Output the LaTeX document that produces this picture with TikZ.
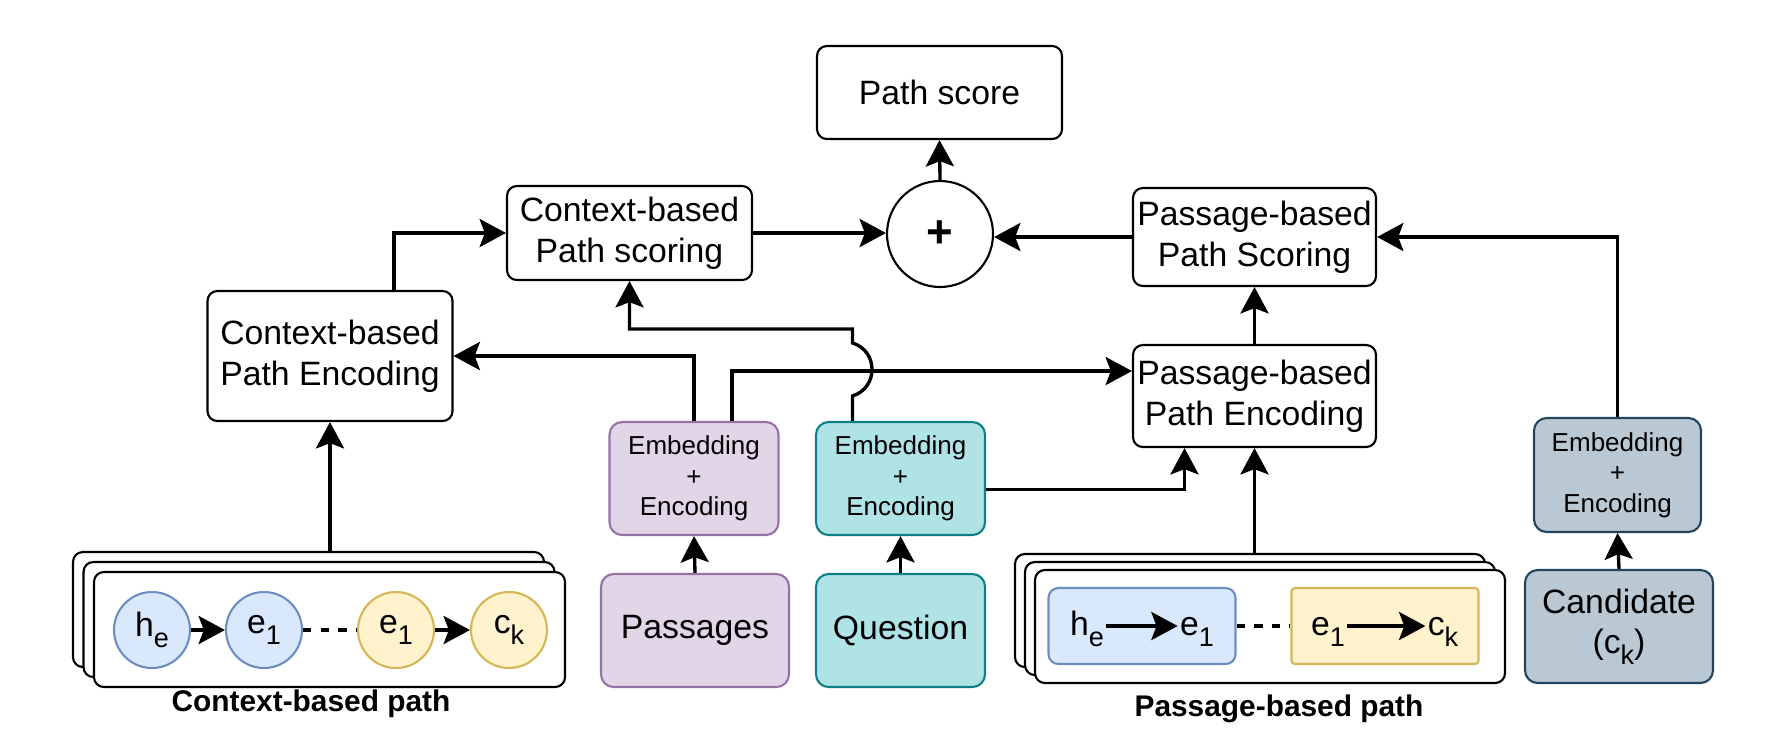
\documentclass[tikz,border=0pt]{standalone}
\usepackage{fontspec}
\setmainfont{Liberation Sans}
\usepackage{tikz}
\usetikzlibrary{arrows.meta,shapes}

\definecolor{blueF}{HTML}{DAE8FC}
\definecolor{blueD}{HTML}{6C8EBF}
\definecolor{yellowF}{HTML}{FFF2CC}
\definecolor{yellowD}{HTML}{D6B656}
\definecolor{purpleF}{HTML}{E1D5E7}
\definecolor{purpleD}{HTML}{9673A6}
\definecolor{tealF}{HTML}{B0E3E6}
\definecolor{tealD}{HTML}{0E8088}
\definecolor{greyF}{HTML}{BAC8D3}
\definecolor{greyD}{HTML}{23445D}

% 下標文字
\newcommand{\lowsub}[1]{\raisebox{-0.32em}{\fontsize{7.7}{8}\selectfont #1}}

\begin{document}
\begin{tikzpicture}[
    % 為線條設定樣式
    arr/.style={draw, line width=0.95pt, -{Stealth[length=7.5pt, width=8pt, inset=1.5pt]}},
    dashline/.style={draw, line width=0.95pt, dash pattern=on 2.4pt off 2.6pt},
    % --- 定義節點樣式 ---
    % 白色圓角方塊樣式
    box/.style={
        rectangle,
        rounded corners=2.8pt,
        draw=black,
        line width=0.6pt,
        fill=white,
        align=center,
        inner sep=1pt,
        font=\fontsize{9.6}{11.7}\selectfont
    },
    % 加號圓形樣式
    plusc/.style={
        circle,
        draw=black,
        line width=0.6pt,
        minimum size=1.06cm,
        inner sep=0pt,
        font=\fontsize{13}{13}\selectfont\bfseries
    },
    % 彩色輸入方塊樣式
    inbox/.style={
        rectangle,
        rounded corners=3.6pt,
        line width=0.6pt,
        align=center,
        inner sep=1pt,
        font=\fontsize{9.6}{11.4}\selectfont
    },
    embbox/.style={inbox, font=\fontsize{7.4}{8.7}\selectfont},
    % 路徑堆疊方塊樣式
    stackbox/.style={
        rectangle,
        rounded corners=2.8pt,
        draw=black,
        line width=0.6pt,
        fill=white
    },
    % 路徑中的實體樣式
    ent/.style={
        circle,
        line width=0.6pt,
        minimum size=0.76cm,
        inner sep=0pt,
        font=\fontsize{9.6}{11}\selectfont
    },
    seg/.style={
        rectangle,
        line width=0.6pt,
        minimum width=1.87cm,
        minimum height=0.76cm
    },
    tag/.style={inner sep=0.5pt, text height=1.6ex, text depth=0.6ex, font=\fontsize{9.6}{11}\selectfont},
    lbl/.style={font=\fontsize{8.5}{10}\selectfont\bfseries}
]

% --- 畫面邊界 ---
\useasboundingbox (0,0) rectangle (17.85,-7.5);

% --- 上方計分節點 ---
\node[box, minimum width=2.45cm, minimum height=0.93cm] (score) at (9.395,-0.925) {Path score};
\node[plusc] (plus) at (9.40,-2.34) {+};
\node[box, minimum width=2.45cm, minimum height=0.94cm] (cscore) at (6.295,-2.33) {Context-based\\Path scoring};
\node[box, minimum width=2.43cm, minimum height=0.98cm] (pscore) at (12.545,-2.37) {Passage-based\\Path Scoring};

% --- 編碼節點 ---
\node[box, minimum width=2.45cm, minimum height=1.3cm] (cenc) at (3.30,-3.56) {Context-based\\Path Encoding};
\node[box, minimum width=2.43cm, minimum height=1.02cm] (penc) at (12.545,-3.96) {Passage-based\\Path Encoding};

% Embedding + Encoding
\node[embbox, fill=purpleF, draw=purpleD, minimum width=1.69cm, minimum height=1.13cm] (embP) at (6.94,-4.785) {Embedding\\+\\Encoding};
\node[embbox, fill=tealF, draw=tealD, minimum width=1.69cm, minimum height=1.13cm] (embQ) at (9.005,-4.785) {Embedding\\+\\Encoding};
\node[embbox, fill=greyF, draw=greyD, minimum width=1.67cm, minimum height=1.14cm] (embC) at (16.175,-4.75) {Embedding\\+\\Encoding};

% --- 輸入節點 ---
\node[inbox, fill=purpleF, draw=purpleD, minimum width=1.88cm, minimum height=1.13cm] (passages) at (6.95,-6.305) {Passages};
\node[inbox, fill=tealF, draw=tealD, minimum width=1.69cm, minimum height=1.13cm] (question) at (9.005,-6.305) {Question};
\node[inbox, fill=greyF, draw=greyD, minimum width=1.88cm, minimum height=1.13cm] (cand) at (16.19,-6.265) {Candidate\\(c\lowsub{k})};

% --- Context-based path 堆疊 ---
\node[stackbox, minimum width=4.71cm, minimum height=1.15cm] (cback) at (3.085,-6.095) {};
\node[stackbox, minimum width=4.71cm, minimum height=1.15cm] (cmid) at (3.19,-6.195) {};
\node[stackbox, minimum width=4.71cm, minimum height=1.15cm] (cpath) at (3.295,-6.295) {};
\node[ent, fill=blueF, draw=blueD] (ch) at (1.52,-6.30) {h\lowsub{e}};
\node[ent, fill=blueF, draw=blueD] (ce) at (2.64,-6.30) {e\lowsub{1}};
\node[ent, fill=yellowF, draw=yellowD] (ye) at (3.96,-6.30) {e\lowsub{1}};
\node[ent, fill=yellowF, draw=yellowD] (yc) at (5.09,-6.30) {c\lowsub{k}};
\draw[arr] (ch) -- (ce);
\draw[dashline] (ce) -- (ye);
\draw[arr] (ye) -- (yc);
\node[lbl] (clabel) at (3.11,-7.04) {Context-based path};

% --- Passage-based path 堆疊 ---
\node[stackbox, minimum width=4.70cm, minimum height=1.13cm] (pback) at (12.50,-6.105) {};
\node[stackbox, minimum width=4.70cm, minimum height=1.13cm] (pmid) at (12.60,-6.185) {};
\node[stackbox, minimum width=4.70cm, minimum height=1.13cm] (ppath) at (12.70,-6.265) {};
\node[seg, rounded corners=2.8pt, fill=blueF, draw=blueD] (brect) at (11.42,-6.26) {};
\node[seg, rounded corners=1pt, fill=yellowF, draw=yellowD] (yrect) at (13.85,-6.26) {};
\node[tag] (bh) at (10.87,-6.26) {h\lowsub{e}};
\node[tag] (be) at (11.97,-6.26) {e\lowsub{1}};
\node[tag] (pe) at (13.28,-6.26) {e\lowsub{1}};
\node[tag] (pc) at (14.43,-6.26) {c\lowsub{k}};
\draw[arr] (bh) -- (be);
\draw[dashline] (brect) -- (yrect);
\draw[arr] (pe) -- (pc);
\node[lbl] (plabel) at (12.79,-7.09) {Passage-based path};

% --- 繪製連線 ---
\draw[arr] (cenc.south |- cback.north) -- (cenc.south);
\draw[arr] ([xshift=6.4mm]cenc.north) |- (cscore.west);
\draw[arr] (cscore.east) -- (cscore.east -| plus.west);
\draw[arr] (pscore.west) -- (pscore.west -| plus.east);
\draw[arr] (plus.north) -- (score.south);
\draw[arr] (penc.north) -- (pscore.south);
\draw[arr] (embP.north) |- (cenc.east);
\draw[arr] ([xshift=3.8mm]embP.north) |- ([yshift=2.5mm]penc.west);
% 跨越線條的跳線
\draw[arr] ([xshift=-4.8mm]embQ.north) -- ++(0,0.25) coordinate (hopA)
    .. controls +(0.26,0.08) and +(0.26,-0.08) .. ++(0,0.53) coordinate (hopB)
    |- ([yshift=-4.8mm]cscore.south) -- (cscore.south);
\draw[arr] ([yshift=-1.1mm]embQ.east) -| ([xshift=-7mm]penc.south);
\draw[arr] (penc.south |- pback.north) -- (penc.south);
\draw[arr] (embC.north) |- (pscore.east);
\draw[arr] (passages.north) -- (embP.south);
\draw[arr] (question.north) -- (embQ.south);
\draw[arr] (cand.north) -- (embC.south);

\end{tikzpicture}
\end{document}
